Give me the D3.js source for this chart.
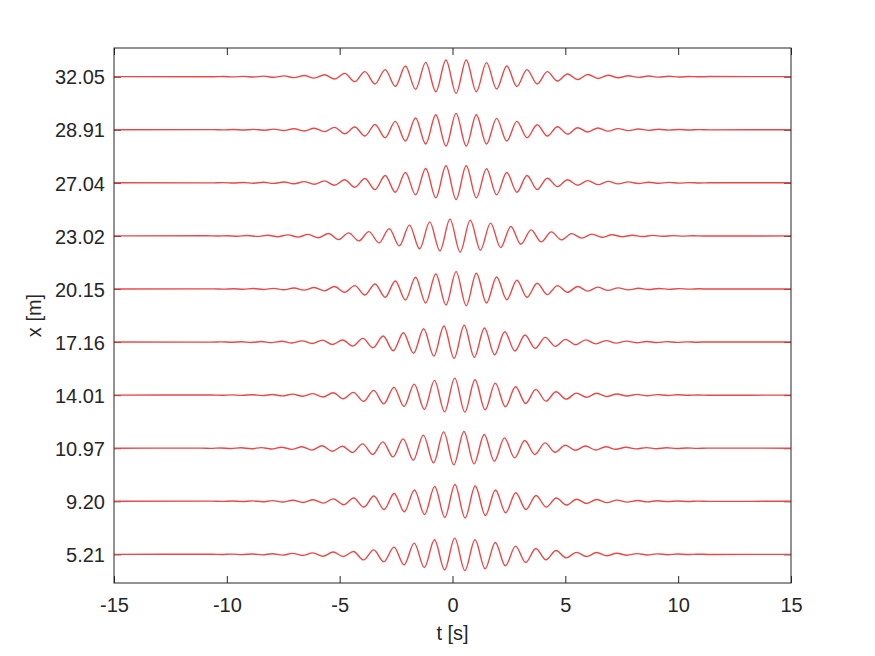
<!DOCTYPE html>
<html>
<head>
<meta charset="utf-8">
<script src="https://cdn.jsdelivr.net/npm/d3@7"></script>
<style>
  body { margin: 0; background: #fff; }
  svg { display: block; font-family: "Liberation Sans", Arial, Helvetica, sans-serif; }
</style>
</head>
<body>
<div id="chart"></div>
<script>
const size = { width: 875, height: 656 };
const box = { left: 114, right: 791, top: 48, bottom: 583 };

// gauge positions, bottom to top
const traceLabels = ["5.21", "9.20", "10.97", "14.01", "17.16", "20.15", "23.02", "27.04", "28.91", "32.05"];

// time [s] of the first extremum read for each gauge
const traceStart = [-4.84, -4.83, -5.33, -4.84, -4.87, -4.78, -5.05, -4.78, -4.78, -4.78];

// successive crest / trough elevations (mm, 53 mm per row)
const traceCore = [
  [-2.2, 2.8, -5.5, 4.5, -7.5, 7.2, -10.5, 11.2, -13.2, 14.5, -15.5, 16.2, -16.2, 14.5, -14.5, 11.8, -11.5, 8.2, -8.2, 5.8, -5.5, 3.8, -3.5, 2.0],
  [-3.5, 3.2, -5.8, 5.2, -8.2, 7.8, -10.5, 11.2, -13.2, 14.8, -16.2, 16.8, -16.8, 15.2, -14.2, 11.2, -11.5, 8.5, -8.2, 5.8, -5.8, 3.2, -3.8, 2.0],
  [-3.0, 2.0, -4.3, 4.3, -6.3, 6.3, -8.7, 9.3, -12.0, 13.0, -14.7, 16.3, -16.7, 16.7, -15.7, 13.7, -13.0, 10.3, -9.7, 7.7, -6.3, 5.3, -4.0, 3.0, -2.0],
  [-3.7, 2.7, -6.3, 4.7, -8.7, 7.7, -11.3, 11.0, -14.3, 14.7, -16.7, 17.0, -17.0, 15.3, -14.7, 12.0, -11.7, 8.3, -8.3, 5.7, -6.0, 3.3, -4.0, 2.0],
  [2.0, -4.0, 3.7, -5.7, 6.0, -8.7, 9.3, -11.3, 13.3, -14.0, 16.0, -16.3, 16.7, -15.3, 14.0, -12.7, 10.3, -9.0, 7.0, -6.3, 4.7, -4.3, 2.7, -2.7],
  [-3.3, 3.3, -6.0, 5.0, -8.3, 8.0, -11.0, 11.7, -14.0, 15.0, -16.0, 17.3, -16.7, 15.7, -14.0, 12.0, -10.7, 8.7, -8.3, 5.7, -5.7, 3.3, -3.3, 2.5],
  [-3.7, 3.0, -5.0, 4.3, -7.0, 7.3, -10.0, 10.7, -13.0, 14.0, -15.0, 16.7, -16.3, 15.7, -14.3, 12.7, -11.7, 9.3, -8.3, 6.0, -6.0, 4.0, -4.0, 2.3],
  [3.0, -4.4, 4.3, -6.7, 7.3, -9.4, 10.3, -12.0, 14.3, -15.0, 17.0, -16.7, 17.0, -15.0, 14.0, -12.0, 10.3, -9.4, 7.3, -6.7, 4.6, -3.7, 3.0, -2.4],
  [-4.0, 2.7, -6.3, 5.3, -8.0, 8.3, -11.3, 11.7, -14.3, 15.0, -16.3, 16.3, -16.3, 15.0, -14.3, 11.3, -11.3, 8.3, -8.0, 5.0, -6.3, 3.0, -4.3, 2.0],
  [3.3, -5.0, 5.0, -7.3, 7.0, -9.7, 10.7, -12.7, 14.3, -15.0, 16.7, -16.7, 16.7, -15.0, 14.0, -12.3, 10.7, -9.7, 7.0, -7.3, 5.0, -4.3, 2.7, -3.0]
];

// small ripples outside the packet (mm, going outward)
const tailLead = [2.4, 1.9, 1.5, 1.2, 1.0, 0.8, 0.6, 0.5, 0.4, 0.3, 0.2, 0.15, 0.1];
const tailTrail = [2.2, 1.8, 1.4, 1.1, 0.9, 0.7, 0.6, 0.5, 0.4, 0.3, 0.2, 0.15, 0.1];

const halfPeriod = 0.449;
const mmPerRow = 53;
const xTicks = [-15, -10, -5, 0, 5, 10, 15];
const tRange = [-15, 15];

const ink = "#262626";

const svg = d3.select("#chart")
  .append("svg")
  .attr("width", size.width)
  .attr("height", size.height);

svg.append("rect")
  .attr("width", size.width)
  .attr("height", size.height)
  .attr("fill", "#fff");

const x = d3.scaleLinear().domain(tRange).range([box.left, box.right]);
const y = d3.scaleLinear().domain([0.46, 10.54]).range([box.bottom, box.top]);

function tracePoints(k) {
  const core = traceCore[k], t0 = traceStart[k];
  const s0 = Math.sign(core[0]);
  const pts = [];
  tailLead.forEach(function(a, j) {
    pts.unshift([t0 - (j + 1) * halfPeriod, (j % 2 === 0 ? -s0 : s0) * a]);
  });
  core.forEach(function(a, j) { pts.push([t0 + j * halfPeriod, a]); });
  const n = core.length, sN = Math.sign(core[n - 1]), tN = t0 + (n - 1) * halfPeriod;
  tailTrail.forEach(function(a, j) {
    pts.push([tN + (j + 1) * halfPeriod, (j % 2 === 0 ? -sN : sN) * a]);
  });
  pts.unshift([tRange[0], 0]);
  pts.push([tRange[1], 0]);
  return pts.map(function(p) { return [p[0], k + 1 + p[1] / mmPerRow]; });
}

// axes (ticks inside the box)
const rows = d3.range(1, traceLabels.length + 1);

const gx = svg.append("g")
  .attr("transform", "translate(0," + box.bottom + ")")
  .call(d3.axisBottom(x).tickValues(xTicks).tickFormat(function(d) { return String(d); })
    .tickSizeInner(-7).tickSizeOuter(0).tickPadding(15));

svg.append("g")
  .attr("transform", "translate(0," + box.top + ")")
  .call(d3.axisTop(x).tickValues(xTicks).tickFormat("").tickSizeInner(-7).tickSizeOuter(0));

const gy = svg.append("g")
  .attr("transform", "translate(" + box.left + ",0)")
  .call(d3.axisLeft(y).tickValues(rows).tickFormat(function(d) { return traceLabels[d - 1]; })
    .tickSizeInner(-7).tickSizeOuter(0).tickPadding(9));

svg.append("g")
  .attr("transform", "translate(" + box.right + ",0)")
  .call(d3.axisRight(y).tickValues(rows).tickFormat("").tickSizeInner(-7).tickSizeOuter(0));

svg.selectAll(".domain").remove();
svg.selectAll(".tick line").attr("stroke", ink);
svg.selectAll(".tick text")
  .attr("fill", ink)
  .style("font-size", "20px")
  .style("font-family", "\"Liberation Sans\", Arial, Helvetica, sans-serif");
gy.selectAll(".tick text").attr("dy", "0.36em");

// traces
const line = d3.line()
  .curve(d3.curveMonotoneX)
  .x(function(d) { return x(d[0]); })
  .y(function(d) { return y(d[1]); });

svg.append("g")
  .selectAll("path")
  .data(traceCore.map(function(c, k) { return tracePoints(k); }))
  .enter().append("path")
    .attr("d", line)
    .attr("fill", "none")
    .attr("stroke", "#ea4848")
    .attr("stroke-width", 1.4);

svg.append("rect")
  .attr("x", box.left)
  .attr("y", box.top)
  .attr("width", box.right - box.left)
  .attr("height", box.bottom - box.top)
  .attr("fill", "none")
  .attr("stroke", ink)
  .attr("stroke-width", 1);

svg.append("text")
  .attr("x", (box.left + box.right) / 2)
  .attr("y", 640)
  .attr("text-anchor", "middle")
  .attr("fill", ink)
  .style("font-size", "20px")
  .text("t [s]");

svg.append("text")
  .attr("transform", "translate(41," + (box.top + box.bottom) / 2 + ") rotate(-90)")
  .attr("text-anchor", "middle")
  .attr("fill", ink)
  .style("font-size", "20px")
  .text("x [m]");
</script>
</body>
</html>
